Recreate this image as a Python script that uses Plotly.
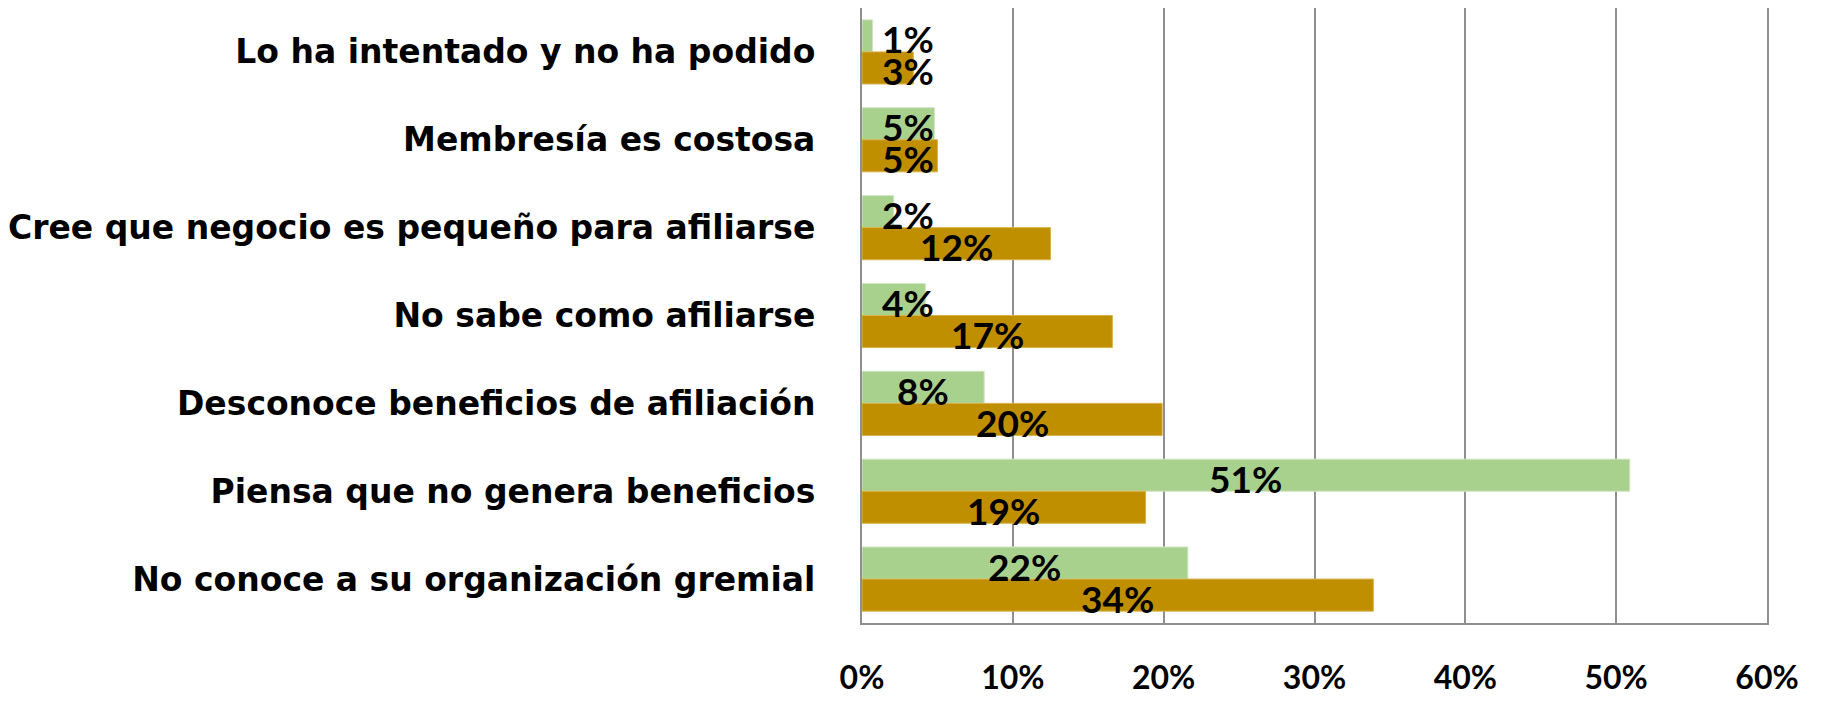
import plotly.graph_objects as go

categories = [
    "Lo ha intentado y no ha podido",
    "Membresía es costosa",
    "Cree que negocio es pequeño para afiliarse",
    "No sabe como afiliarse",
    "Desconoce beneficios de afiliación",
    "Piensa que no genera beneficios",
    "No conoce a su organización gremial",
]
green_vals = [0.007, 0.048, 0.021, 0.042, 0.081, 0.509, 0.216]
gold_vals = [0.034, 0.050, 0.125, 0.166, 0.199, 0.188, 0.339]

GREEN = "#A9D18E"
GOLD = "#BF8F00"
FONT = "Lato"

fig = go.Figure()
fig.add_trace(go.Bar(y=categories, x=green_vals, orientation="h",
                     marker=dict(color=GREEN, line=dict(color="#cfe5c0", width=1)),
                     showlegend=False, hoverinfo="x"))
fig.add_trace(go.Bar(y=categories, x=gold_vals, orientation="h",
                     marker=dict(color=GOLD, line=dict(color="#d9b24a", width=1)),
                     showlegend=False, hoverinfo="x"))

gap = 0.27
half = (1 - gap) / 4  # offset of each bar centre within its group

annotations = []
for i, (g, o) in enumerate(zip(green_vals, gold_vals)):
    for v, off in ((g, -half), (o, half)):
        small = v < 0.06
        annotations.append(dict(
            x=0.012 if small else v / 2, y=i + off, xref="x", yref="y",
            xanchor="left" if small else "center",
            text=f"{round(v * 100):.0f}%", showarrow=False, yshift=-3,
            font=dict(family=FONT, size=37, color="black", weight="bold"),
        ))

# page number, mostly cut off at the bottom edge
annotations.append(dict(x=0.99, y=-0.118, xref="paper", yref="paper",
                        text="25", showarrow=False, yanchor="top",
                        font=dict(family=FONT, size=20, color="#b0b0b0")))

# the page body adds 8px, so the figure is 8px smaller than the window
fig.update_layout(
    width=1817, height=695,
    margin=dict(l=854, r=58, t=0, b=80),
    paper_bgcolor="white", plot_bgcolor="white",
    barmode="group", bargap=gap, bargroupgap=0,
    annotations=annotations,
    xaxis=dict(range=[0, 0.6], dtick=0.1, tickformat=".0%",
               showgrid=True, gridcolor="#8f8f8f", gridwidth=2,
               showline=True, linecolor="#8f8f8f", linewidth=2,
               zeroline=False, ticks="", ticklabelstandoff=26,
               tickfont=dict(family=FONT, size=32, color="black", weight="bold")),
    yaxis=dict(autorange="reversed", showline=True, mirror=True,
               linecolor="#8f8f8f", linewidth=2, showgrid=False,
               ticks="", ticklabelstandoff=38,
               tickfont=dict(family="DejaVu Sans", size=33, color="black", weight="bold")),
)

fig.write_html("out.html")
